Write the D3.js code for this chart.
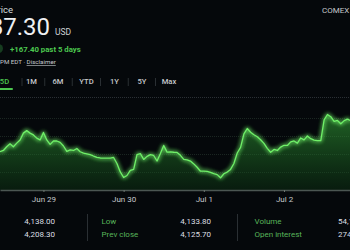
<!DOCTYPE html>
<html>
<head>
<meta charset="utf-8">
<script src="https://cdn.jsdelivr.net/npm/d3@7"></script>
<style>
  html, body { margin: 0; padding: 0; background: #05080b; overflow: hidden; }
  svg { display: block; font-family: Roboto, "Noto Sans", sans-serif; }
</style>
</head>
<body>
<svg id="chart" width="350" height="250"></svg>
<script>
// hourly prices, starting Jun 28 11:00
const prices = [
  4014, 4021, 4042, 4058, 4042, 4062, 4080, 4118, 4132, 4118,
  4108, 4090, 4080, 4122, 4080, 4055, 4074, 4074, 4066, 4046,
  4016, 4024, 4021, 4032, 4014, 4006, 4002, 3998, 3990, 3983,
  3979, 3978, 3978, 3978, 3982, 3948, 3901, 3870, 3881, 3910,
  3915, 3998, 4003, 3971, 3988, 3998, 3993, 3962, 4004, 4049,
  4012, 4013, 4011, 4010, 3994, 3971, 3969, 3962, 3946, 3927,
  3905, 3906, 3904, 3899, 3892, 3886, 3868, 3891, 3900, 3915,
  3948, 4007, 4038, 4114, 4144, 4123, 4109, 4098, 4081, 4061,
  4033, 4011, 4027, 4021, 4040, 4050, 4049, 4069, 4074, 4062,
  4091, 4080, 4102, 4087, 4079, 4076, 4076, 4192, 4222, 4210,
  4184, 4189, 4170, 4188, 4196, 4187
];
const dayTicks = ["2025-06-29", "2025-06-30", "2025-07-01", "2025-07-02"];
const gridPrices = [3900, 4000, 4100, 4200];
const tabs = ["5D", "1M", "6M", "YTD", "1Y", "5Y", "Max"];
const statLabels = [["Low", "Prev close"], ["Volume", "Open interest"]];
const statValues = [["4,138.00", "4,208.30"], ["4,133.80", "4,125.70"], ["54,102", "274,381"]];

const d3 = window.d3;
const svg = d3.select("#chart");
const W = 350, plotTop = 97, base = 190;

const t0 = new Date(2025, 5, 28, 11, 0);
const series = prices.map((p, i) => ({ t: new Date(t0.getTime() + i * 3600e3), p }));
const parseDay = d3.timeParse("%Y-%m-%d");

const x = d3.scaleTime()
  .domain([t0, new Date(2025, 6, 2, 19, 45)])
  .range([0, W]);
const y = d3.scaleLinear().domain([3800, 4320]).range([base, plotTop]);

const defs = svg.append("defs");
const grad = defs.append("linearGradient").attr("id", "fill").attr("x1", 0).attr("x2", 0).attr("y1", 0).attr("y2", 1);
grad.append("stop").attr("offset", "0%").attr("stop-color", "#3cbf40").attr("stop-opacity", 0.5);
grad.append("stop").attr("offset", "100%").attr("stop-color", "#0d3a14").attr("stop-opacity", 0.4);
const glow = defs.append("filter").attr("id", "glow").attr("x", "-10%").attr("y", "-30%").attr("width", "120%").attr("height", "160%");
glow.append("feGaussianBlur").attr("stdDeviation", 2).attr("result", "b");
const mg = glow.append("feMerge");
mg.append("feMergeNode").attr("in", "b");
mg.append("feMergeNode").attr("in", "b");
mg.append("feMergeNode").attr("in", "SourceGraphic");
defs.append("clipPath").attr("id", "clip").append("rect")
  .attr("x", 0).attr("y", plotTop).attr("width", W).attr("height", base - plotTop);

// ===== HEADER =====
svg.append("text").attr("x", 13).attr("y", 13).attr("text-anchor", "end")
  .attr("fill", "#d6d9dc").attr("font-size", 9.5).text("Price");
svg.append("text").attr("x", 50).attr("y", 35).attr("text-anchor", "end")
  .attr("fill", "#eef0f2").attr("font-size", 24).text("4,187.30");
svg.append("text").attr("x", 55).attr("y", 35)
  .attr("fill", "#cfd2d5").attr("font-size", 8.5).text("USD");
svg.append("rect").attr("x", -12).attr("y", 44).attr("width", 15).attr("height", 9).attr("rx", 4.5)
  .attr("fill", "#173d20");
svg.append("text").attr("x", 10).attr("y", 51.5)
  .attr("fill", "#4cc74f").attr("font-size", 7.8).attr("font-weight", 700).text("+167.40 past 5 days");
const ts = svg.append("text").attr("x", 0).attr("y", 64).attr("fill", "#c6c9cc").attr("font-size", 6.2);
ts.append("tspan").text("PM EDT · ");
ts.append("tspan").attr("text-decoration", "underline").text("Disclaimer");
svg.append("text").attr("x", 322).attr("y", 13)
  .attr("fill", "#c6c9cc").attr("font-size", 8).text("COMEX");

// ===== TABS =====
const tabX = [4.5, 31.5, 58, 86.5, 114.5, 142, 169];
tabs.forEach((t, i) => {
  svg.append("text").attr("x", tabX[i]).attr("y", 84).attr("text-anchor", "middle")
    .attr("fill", i === 0 ? "#4cc74f" : "#c6c9cc").attr("font-size", 7.6).attr("font-weight", 500).text(t);
  if (i > 0) {
    const sx = (tabX[i - 1] + tabX[i]) / 2 + (i === 1 ? 4 : 0);
    svg.append("line").attr("x1", sx).attr("x2", sx).attr("y1", 78).attr("y2", 86)
      .attr("stroke", "#2a2f33").attr("stroke-width", 1);
  }
});
svg.append("rect").attr("x", -6).attr("y", 88).attr("width", 19).attr("height", 2).attr("rx", 1).attr("fill", "#4cc74f");
svg.append("line").attr("x1", 0).attr("x2", W).attr("y1", 97.5).attr("y2", 97.5)
  .attr("stroke", "#2b3035").attr("stroke-dasharray", "1,1");

// ===== GRID =====
svg.append("g").selectAll("line").data(gridPrices).enter().append("line")
  .attr("x1", 0).attr("x2", W)
  .attr("y1", d => Math.round(y(d)) + 0.5).attr("y2", d => Math.round(y(d)) + 0.5)
  .attr("stroke", "#1b2622").attr("stroke-dasharray", "1,1");

// ===== AREA + LINE =====
const g = svg.append("g").attr("clip-path", "url(#clip)");
g.append("path").datum(series)
  .attr("d", d3.area().x(d => x(d.t)).y0(base).y1(d => y(d.p)))
  .attr("fill", "url(#fill)");
g.append("path").datum(series)
  .attr("d", d3.line().x(d => x(d.t)).y(d => y(d.p)))
  .attr("fill", "none").attr("stroke", "#6ff068").attr("stroke-width", 1.3)
  .attr("stroke-linejoin", "round").attr("filter", "url(#glow)");

// ===== X AXIS =====
const gx = svg.append("g").attr("transform", `translate(0,${base})`)
  .call(d3.axisBottom(x).tickValues(dayTicks.map(parseDay)).tickFormat(d3.timeFormat("%b %-d")).tickSize(2).tickSizeOuter(0));
gx.select(".domain").attr("stroke", "#4b5652").attr("stroke-width", 1.5);
gx.selectAll(".tick line").attr("stroke", "#6a7470");
gx.selectAll(".tick text").attr("fill", "#c6c9cc").attr("font-size", 8).attr("dy", "0.9em")
  .attr("font-family", "Roboto, sans-serif");

// ===== STATS =====
const valX = [55, 211, 338];
const valAnchor = ["end", "end", "start"];
statValues.forEach((col, i) => col.forEach((v, j) => {
  svg.append("text").attr("x", valX[i]).attr("y", 224 + j * 13).attr("text-anchor", valAnchor[i])
    .attr("fill", "#dcdfe2").attr("font-size", 8).text(v);
}));
const labX = [101.5, 254.5];
statLabels.forEach((col, i) => col.forEach((v, j) => {
  svg.append("text").attr("x", labX[i]).attr("y", 224 + j * 13)
    .attr("fill", "#58b55a").attr("font-size", 8).text(v);
}));
[87.5, 237.5].forEach(sx => svg.append("line").attr("x1", sx).attr("x2", sx).attr("y1", 214).attr("y2", 241)
  .attr("stroke", "#2a2f33"));
</script>
</body>
</html>
